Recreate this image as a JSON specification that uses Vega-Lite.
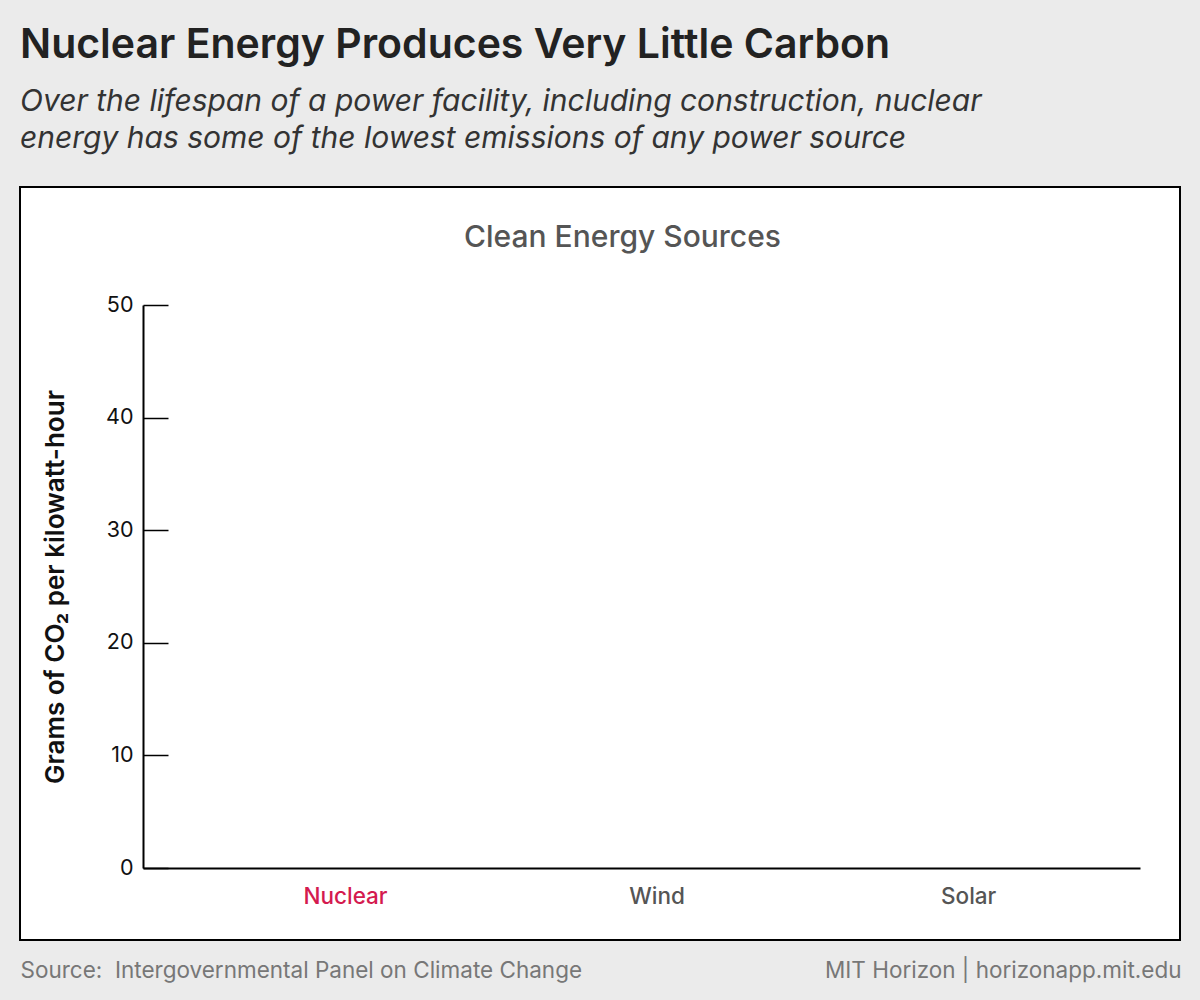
{
  "$schema": "https://vega.github.io/schema/vega-lite/v6.json",
  "width": 1160,
  "height": 753,
  "autosize": {"type": "none"},
  "padding": {"left": 20, "top": 187, "right": 20, "bottom": 60},
  "background": "#ebebeb",
  "title": {
    "text": "Nuclear Energy Produces Very Little Carbon",
    "subtitle": ["Over the lifespan of a power facility, including construction, nuclear", "energy has some of the lowest emissions of any power source"],
    "anchor": "start",
    "frame": "group",
    "offset": 32,
    "font": "Inter",
    "fontSize": 41,
    "fontWeight": 600,
    "color": "#222222",
    "subtitleFont": "Inter",
    "subtitleFontSize": 30,
    "subtitleFontStyle": "italic",
    "subtitleColor": "#333333",
    "subtitleLineHeight": 37,
    "subtitlePadding": 20
  },
  "data": {"values": [
    {"source": "Nuclear", "grams": 0},
    {"source": "Wind", "grams": 0},
    {"source": "Solar", "grams": 0}
  ]},
  "layer": [
    {
      "mark": {"type": "bar", "color": "#d41a4f"},
      "encoding": {
        "x": {
          "field": "source", "type": "nominal", "sort": ["Nuclear", "Wind", "Solar"],
          "scale": {"range": [123, 1120], "paddingInner": 0.3, "paddingOuter": 0.25, "align": 0.6},
          "axis": {
            "orient": "bottom", "offset": -72,
            "domainColor": "#000000", "domainWidth": 2,
            "ticks": false, "tickSize": 0,
            "labelAngle": 0, "labelFont": "Inter", "labelFontSize": 22.5, "labelFontWeight": 500,
            "labelColor": {"condition": {"test": "datum.value === 'Nuclear'", "value": "#d41a4f"}, "value": "#555555"},
            "labelPadding": 17,
            "title": "Source:\u00a0 Intergovernmental Panel on Climate Change",
            "titleX": 0, "titleY": 102, "titleAlign": "left", "titleBaseline": "middle",
            "titleFont": "Inter", "titleFontSize": 22.5, "titleFontWeight": 400, "titleColor": "#777777"
          }
        },
        "y": {
          "field": "grams", "type": "quantitative",
          "scale": {"domain": [0, 50], "range": [681, 118], "nice": false, "zero": true},
          "axis": {
            "orient": "left", "offset": -123,
            "values": [0, 10, 20, 30, 40, 50], "grid": false,
            "domainColor": "#000000", "domainWidth": 2,
            "tickColor": "#000000", "tickWidth": 1.5, "tickSize": -25,
            "labelFont": "Inter", "labelFontSize": 21.5, "labelColor": "#111111", "labelPadding": 35,
            "title": "Grams of CO₂ per kilowatt-hour",
            "titleX": -88, "titleY": 399.5, "titleAngle": -90, "titleAlign": "center", "titleBaseline": "middle",
            "titleFont": "Inter", "titleFontSize": 26, "titleFontWeight": 600, "titleColor": "#111111"
          }
        }
      }
    },
    {
      "mark": {"type": "bar", "color": "#d41a4f"},
      "encoding": {
        "x": {
          "field": "source", "type": "nominal", "sort": ["Nuclear", "Wind", "Solar"],
          "axis": {
            "orient": "top", "offset": 0,
            "labels": false, "ticks": false, "domain": false,
            "title": "Clean Energy Sources",
            "titleX": 602, "titleY": 50, "titleAlign": "center", "titleBaseline": "middle",
            "titleFont": "Inter", "titleFontSize": 30, "titleFontWeight": 500, "titleColor": "#555555"
          }
        },
        "y": {
          "field": "grams", "type": "quantitative",
          "axis": {
            "orient": "right", "offset": 0,
            "labels": false, "ticks": false, "domain": false, "grid": false,
            "title": "MIT Horizon | horizonapp.mit.edu",
            "titleX": 1, "titleY": 783, "titleAngle": 0, "titleAlign": "right", "titleBaseline": "middle",
            "titleFont": "Inter", "titleFontSize": 22.5, "titleFontWeight": 400, "titleColor": "#777777"
          }
        }
      }
    }
  ],
  "resolve": {"axis": {"x": "independent", "y": "independent"}},
  "config": {"view": {"fill": "white", "stroke": "#000000", "strokeWidth": 2}}
}
